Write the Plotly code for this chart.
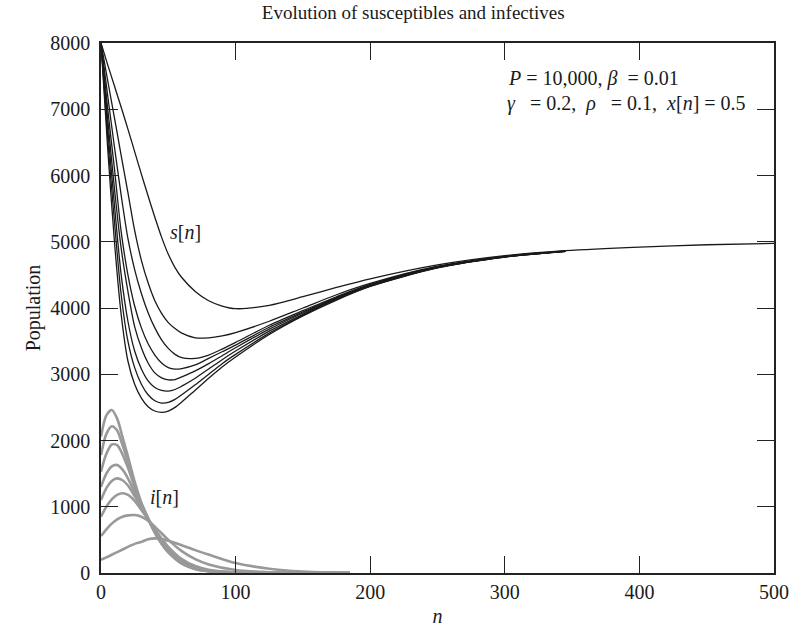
import plotly.graph_objects as go

# time index for the susceptible curves
n_s = [0, 5, 10, 15, 20, 25, 30, 35, 40, 45, 50, 55, 60, 70, 80, 90, 100, 125, 150, 175, 200, 250, 300, 345]
n_s_long = [400, 450, 500]

# s[n] (top curve = smallest initial outbreak)
s_a = [8000, 7670, 7350, 7030, 6700, 6360, 6020, 5690, 5370, 5070, 4810, 4610, 4460, 4250, 4110, 4030, 3990, 4040, 4170, 4310, 4440, 4650, 4790, 4865]
s_a_tail = [4920, 4955, 4975]
s_b = [8000, 7430, 6870, 6300, 5740, 5170, 4720, 4380, 4110, 3920, 3780, 3690, 3620, 3550, 3550, 3580, 3630, 3800, 4000, 4200, 4370, 4630, 4780, 4860]
s_c = [8000, 7200, 6430, 5700, 5050, 4580, 4220, 3930, 3700, 3520, 3390, 3300, 3250, 3240, 3290, 3380, 3480, 3740, 3960, 4170, 4355, 4620, 4775, 4858]
s_d = [8000, 7000, 6100, 5150, 4500, 4030, 3700, 3460, 3290, 3170, 3100, 3078, 3085, 3140, 3240, 3340, 3440, 3710, 3940, 4160, 4345, 4615, 4775, 4858]
s_e = [8000, 6850, 5800, 4900, 4250, 3720, 3400, 3170, 3020, 2945, 2915, 2920, 2960, 3050, 3160, 3280, 3400, 3680, 3925, 4150, 4340, 4612, 4772, 4856]
s_f = [8000, 6700, 5550, 4500, 3800, 3350, 3080, 2900, 2800, 2755, 2745, 2770, 2820, 2940, 3080, 3220, 3350, 3650, 3905, 4140, 4335, 4610, 4772, 4856]
s_g = [8000, 6550, 5300, 4200, 3500, 3100, 2850, 2690, 2600, 2565, 2575, 2620, 2690, 2840, 3000, 3160, 3300, 3620, 3890, 4130, 4330, 4608, 4770, 4855]
s_h = [8000, 6400, 5000, 3900, 3200, 2850, 2640, 2510, 2445, 2425, 2445, 2500, 2580, 2760, 2940, 3110, 3260, 3600, 3880, 4120, 4325, 4605, 4770, 4855]

# time index for the infective curves
n_i = [0, 4, 8, 12, 16, 20, 25, 30, 35, 40, 45, 50, 60, 70, 80, 100, 125, 150, 170, 185]

# i[n]
i_1 = [200, 235, 275, 315, 355, 395, 440, 470, 510, 523, 512, 485, 420, 345, 278, 150, 65, 22, 6, 0]
i_2 = [558, 660, 745, 810, 850, 870, 875, 850, 790, 700, 600, 500, 330, 210, 130, 45, 12, 3, 0, 0]
i_3 = [850, 1000, 1110, 1180, 1203, 1180, 1090, 950, 810, 665, 520, 395, 210, 105, 50, 11, 2, 0, 0, 0]
i_4 = [1100, 1280, 1390, 1428, 1400, 1320, 1160, 980, 810, 640, 485, 355, 175, 82, 37, 7, 1, 0, 0, 0]
i_5 = [1300, 1500, 1610, 1630, 1560, 1430, 1220, 1000, 815, 625, 465, 335, 160, 72, 32, 6, 1, 0, 0, 0]
i_6 = [1530, 1800, 1940, 1930, 1790, 1590, 1300, 1030, 820, 615, 450, 322, 150, 66, 29, 5, 1, 0, 0, 0]
i_7 = [1780, 2100, 2215, 2150, 1930, 1680, 1340, 1040, 820, 610, 445, 315, 145, 62, 27, 5, 1, 0, 0, 0]
i_8 = [2060, 2380, 2460, 2330, 2050, 1760, 1380, 1060, 830, 610, 440, 310, 140, 60, 26, 4, 1, 0, 0, 0]

SERIF = "Liberation Serif, Times New Roman, serif"
INK = "#1a1a1a"

fig = go.Figure()

for ys in [i_1, i_2, i_3, i_4, i_5, i_6, i_7, i_8]:
    fig.add_trace(go.Scatter(
        x=n_i, y=ys, mode="lines",
        line=dict(color="#999999", width=2.6, shape="spline", smoothing=0.8),
        hoverinfo="skip", showlegend=False,
    ))

fig.add_trace(go.Scatter(
    x=n_s + n_s_long, y=s_a + s_a_tail, mode="lines",
    line=dict(color=INK, width=1.3, shape="spline", smoothing=0.8),
    hoverinfo="skip", showlegend=False,
))
for ys in [s_b, s_c, s_d, s_e, s_f, s_g, s_h]:
    fig.add_trace(go.Scatter(
        x=n_s, y=ys, mode="lines",
        line=dict(color=INK, width=1.3, shape="spline", smoothing=0.8),
        hoverinfo="skip", showlegend=False,
    ))

# curve labels
fig.add_annotation(x=63, y=5140, text="<i>s</i>[<i>n</i>]", showarrow=False,
                   font=dict(family=SERIF, size=20, color=INK))
fig.add_annotation(x=47, y=1150, text="<i>i</i>[<i>n</i>]", showarrow=False,
                   font=dict(family=SERIF, size=20, color=INK))

# parameter text
fig.add_annotation(x=301, y=7465, xanchor="left", showarrow=False,
                   text="<i>P</i> = 10,000, <i>β</i>&nbsp;&nbsp;= 0.01",
                   font=dict(family=SERIF, size=20, color=INK))
fig.add_annotation(x=300, y=7080, xanchor="left", showarrow=False,
                   text="<i>γ</i>&nbsp;&nbsp;&nbsp;= 0.2,&nbsp;&nbsp;<i>ρ</i>&nbsp;&nbsp;&nbsp;= 0.1,&nbsp;&nbsp;<i>x</i>[<i>n</i>]&nbsp;= 0.5",
                   font=dict(family=SERIF, size=20, color=INK))

axis_common = dict(
    showline=True, linecolor="#222222", linewidth=1.5, mirror="ticks",
    ticks="inside", ticklen=17, tickwidth=1, tickcolor="#222222",
    showgrid=False, zeroline=False, automargin=False,
    tickfont=dict(family=SERIF, size=20, color=INK),
)

fig.update_layout(
    width=794, height=630,
    margin=dict(l=101, r=20, t=43, b=57),
    paper_bgcolor="white", plot_bgcolor="white",
    title=dict(text="Evolution of susceptibles and infectives",
               xref="paper", x=0.464, xanchor="center",
               y=0.981, yanchor="middle",
               font=dict(family=SERIF, size=19, color=INK)),
    xaxis=dict(range=[0, 500], tickvals=[0, 100, 200, 300, 400, 500],
               title=dict(text="<i>n</i>", standoff=7, font=dict(family=SERIF, size=20, color=INK)),
               **axis_common),
    yaxis=dict(range=[0, 8000], tickvals=[0, 1000, 2000, 3000, 4000, 5000, 6000, 7000, 8000],
               ticklabelstandoff=5,
               title=dict(text="Population", standoff=4, font=dict(family=SERIF, size=20, color=INK)),
               **axis_common),
)

# drop the default page margin so the figure sits at the window origin
fig.write_html("out.html", config={"displayModeBar": False},
               post_script="document.body.style.margin='0';document.body.style.overflow='hidden';")
